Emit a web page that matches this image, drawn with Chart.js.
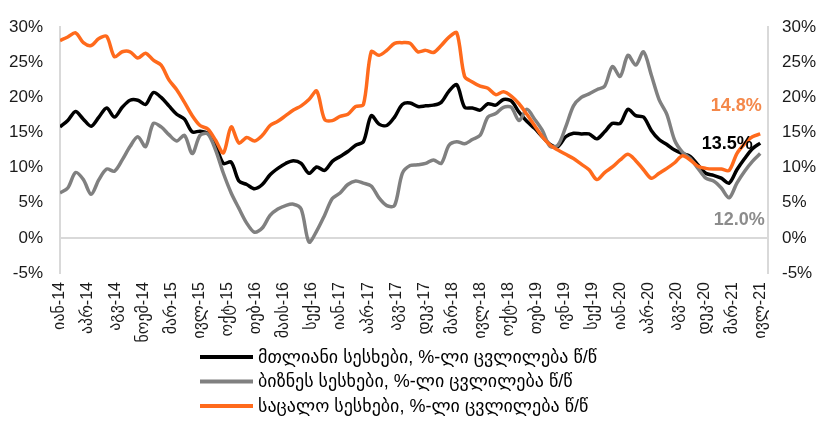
<!DOCTYPE html>
<html>
<head>
<meta charset="utf-8">
<script src="https://cdn.jsdelivr.net/npm/chart.js@4.4.1/dist/chart.umd.min.js"></script>
<style>
  html, body { margin: 0; padding: 0; background: #fff; }
  #wrap { width: 816px; height: 421px; }
</style>
</head>
<body>
<div id="wrap"><canvas id="chart"></canvas></div>
<script>
// x-axis tick labels (evenly spaced over Jan-14 .. Jul-21)
const tickLabels = ['იან-14', 'აპრ-14', 'აგვ-14', 'ნოემ-14', 'მარ-15', 'ივლ-15', 'ოქტ-15', 'თებ-16',
  'მაის-16', 'სექ-16', 'იან-17', 'აპრ-17', 'აგვ-17', 'დეკ-17', 'მარ-18', 'ივლ-18', 'ოქტ-18',
  'თებ-19', 'ივნ-19', 'სექ-19', 'იან-20', 'აპრ-20', 'აგვ-20', 'დეკ-20', 'მარ-21', 'ივლ-21'];

const seriesNames = [
  'მთლიანი სესხები, %-ლი ცვლილება წ/წ',
  'ბიზნეს სესხები, %-ლი ცვლილება წ/წ',
  'საცალო სესხები, %-ლი ცვლილება წ/წ'
];

// monthly y/y growth, Jan-14 .. Jul-21
const totalLoans = [15.8, 16.7, 18.0, 16.9, 15.9, 17.2, 18.5, 17.2, 18.6, 19.6, 19.6, 19.0, 20.7, 20.0, 18.8, 17.6,
  16.9, 15.1, 15.2, 14.9, 13.2, 10.6, 10.8, 8.1, 7.6, 7.0, 7.6, 9.0, 9.9, 10.6, 11.0, 10.6, 9.2, 10.1, 9.6, 10.9,
  11.6, 12.3, 13.2, 13.7, 17.4, 16.2, 16.0, 17.2, 19.0, 19.2, 18.7, 18.8, 18.9, 19.3, 20.9, 21.8, 18.6, 18.5, 18.2,
  19.1, 18.9, 19.7, 19.5, 17.9, 16.6, 15.6, 14.4, 13.3, 13.0, 14.4, 14.9, 14.8, 14.8, 14.1, 15.1, 16.3, 16.3, 18.3,
  17.4, 17.2, 15.3, 14.0, 13.3, 12.5, 12.0, 11.6, 10.4, 9.2, 8.9, 8.5, 7.8, 9.7, 11.3, 12.7, 13.5];

const businessLoans = [6.4, 7.1, 9.3, 8.3, 6.2, 8.3, 9.8, 9.5, 11.1, 13.0, 14.4, 13.0, 16.3, 15.8, 14.7, 13.8,
  14.6, 12.0, 14.6, 14.8, 12.5, 9.2, 6.4, 4.2, 2.1, 0.8, 1.4, 3.2, 4.1, 4.6, 4.8, 4.1, -0.6, 1.0, 3.2, 5.6, 6.4,
  7.6, 8.1, 7.8, 7.4, 5.7, 4.6, 4.6, 9.2, 10.3, 10.4, 10.6, 11.1, 10.6, 13.2, 13.7, 13.4, 14.0, 14.6, 17.2, 17.7,
  18.6, 18.6, 16.7, 18.3, 16.9, 15.3, 13.0, 13.2, 15.8, 18.8, 20.0, 20.5, 21.1, 21.6, 24.4, 23.0, 26.0, 24.6, 26.5,
  23.2, 19.7, 17.6, 13.9, 12.2, 11.3, 9.9, 8.5, 8.1, 7.1, 5.7, 7.8, 9.5, 10.9, 12.0];

const retailLoans = [28.1, 28.6, 29.2, 27.8, 27.4, 28.4, 28.7, 25.8, 26.5, 26.5, 25.6, 26.3, 25.3, 24.6, 22.5,
  21.1, 19.3, 17.4, 16.0, 15.5, 13.9, 12.1, 15.8, 13.5, 14.3, 13.8, 14.6, 16.0, 16.6, 17.4, 18.2, 18.8, 19.7, 20.9,
  16.9, 16.7, 17.3, 17.6, 18.7, 19.0, 26.5, 26.0, 26.7, 27.7, 27.8, 27.7, 26.5, 26.7, 26.4, 27.4, 28.6, 29.2, 23.0,
  22.2, 21.6, 21.3, 20.4, 20.8, 20.2, 19.1, 17.6, 16.0, 14.4, 13.2, 12.5, 11.9, 11.3, 10.5, 9.7, 8.3, 9.3, 10.1,
  11.1, 11.9, 11.0, 9.7, 8.5, 9.2, 9.9, 10.7, 11.7, 11.1, 10.2, 9.9, 9.8, 9.8, 9.6, 12.0, 13.4, 14.4, 14.8];

const FONT = "'Liberation Sans', Arial, 'DejaVu Sans', sans-serif";
const AXIS_GREY = '#d9d9d9';

const toPoints = (arr) => arr.map((v, i) => ({ x: i, y: v }));
const lastIdx = totalLoans.length - 1;

// value labels at the end of each line: [dx, dy, colour]
const endLabelStyle = [
  [-33, 1, '#000000'],
  [-21, 66, '#8c8c8c'],
  [-24, -28, '#f4884a']
];

const endLabels = {
  id: 'endLabels',
  afterDatasetsDraw(chart) {
    const ctx = chart.ctx;
    ctx.save();
    ctx.font = 'bold 18px ' + FONT;
    ctx.textAlign = 'center';
    ctx.textBaseline = 'middle';
    chart.data.datasets.forEach((ds, i) => {
      const pt = chart.getDatasetMeta(i).data[lastIdx];
      const [dx, dy, col] = endLabelStyle[i];
      ctx.fillStyle = col;
      ctx.fillText(ds.data[lastIdx].y.toFixed(1) + '%', pt.x + dx, pt.y + dy);
    });
    ctx.restore();
  }
};

// legend stacked one item per row under the axis labels
const stackLegend = {
  id: 'stackLegend',
  afterDraw(chart) {
    const ctx = chart.ctx;
    ctx.save();
    ctx.font = '18px ' + FONT;
    ctx.textBaseline = 'middle';
    ctx.textAlign = 'left';
    chart.data.datasets.forEach((ds, i) => {
      const y = 357 + i * 24.5;
      ctx.strokeStyle = ds.borderColor;
      ctx.lineWidth = 4;
      ctx.beginPath();
      ctx.moveTo(200, y);
      ctx.lineTo(253, y);
      ctx.stroke();
      ctx.fillStyle = '#000';
      ctx.fillText(ds.label, 258, y + 1);
    });
    ctx.restore();
  }
};

const lineDs = (label, data, color, order) => ({
  label: label,
  data: toPoints(data),
  borderColor: color,
  backgroundColor: color,
  borderWidth: 3.5,
  pointRadius: 0,
  tension: 0.3,
  fill: false,
  order: order
});

new Chart(document.getElementById('chart'), {
  type: 'line',
  data: {
    datasets: [
      lineDs(seriesNames[0], totalLoans, '#000000', 3),
      lineDs(seriesNames[1], businessLoans, '#808080', 2),
      lineDs(seriesNames[2], retailLoans, '#ff6a1c', 1)
    ]
  },
  plugins: [endLabels, stackLegend],
  options: {
    responsive: true,
    maintainAspectRatio: false,
    animation: false,
    layout: { padding: { top: 23, bottom: 73, left: 0, right: 0 } },
    plugins: { legend: { display: false }, tooltip: { enabled: false } },
    scales: {
      x: {
        type: 'linear',
        min: 0,
        max: 91,
        afterBuildTicks: (s) => {
          s.ticks = tickLabels.map((_, i) => ({ value: i * lastIdx / (tickLabels.length - 1) }));
        },
        afterFit: (s) => { s.height = 75; },
        grid: { display: false, drawTicks: false },
        border: { display: false },
        ticks: {
          autoSkip: false,
          minRotation: 90,
          maxRotation: 90,
          padding: 9,
          color: '#1a1a1a',
          font: { family: FONT, size: 16 },
          callback: (v, i) => tickLabels[i]
        }
      },
      y: {
        position: 'left',
        min: -5,
        max: 30,
        afterFit: (s) => { s.width = 60; },
        grid: {
          drawTicks: false,
          lineWidth: 2,
          color: (c) => (c.tick && c.tick.value === 0 ? AXIS_GREY : 'rgba(0,0,0,0)')
        },
        border: { display: true, color: AXIS_GREY, width: 2 },
        ticks: {
          stepSize: 5,
          padding: 17,
          color: '#1a1a1a',
          font: { family: FONT, size: 17 },
          callback: (v) => v + '%'
        }
      },
      y2: {
        position: 'right',
        min: -5,
        max: 30,
        afterFit: (s) => { s.width = 48; },
        grid: { display: false, drawTicks: false },
        border: { display: true, color: AXIS_GREY, width: 2 },
        ticks: {
          stepSize: 5,
          padding: 14,
          color: '#1a1a1a',
          font: { family: FONT, size: 17 },
          callback: (v) => v + '%'
        }
      }
    }
  }
});
</script>
</body>
</html>
